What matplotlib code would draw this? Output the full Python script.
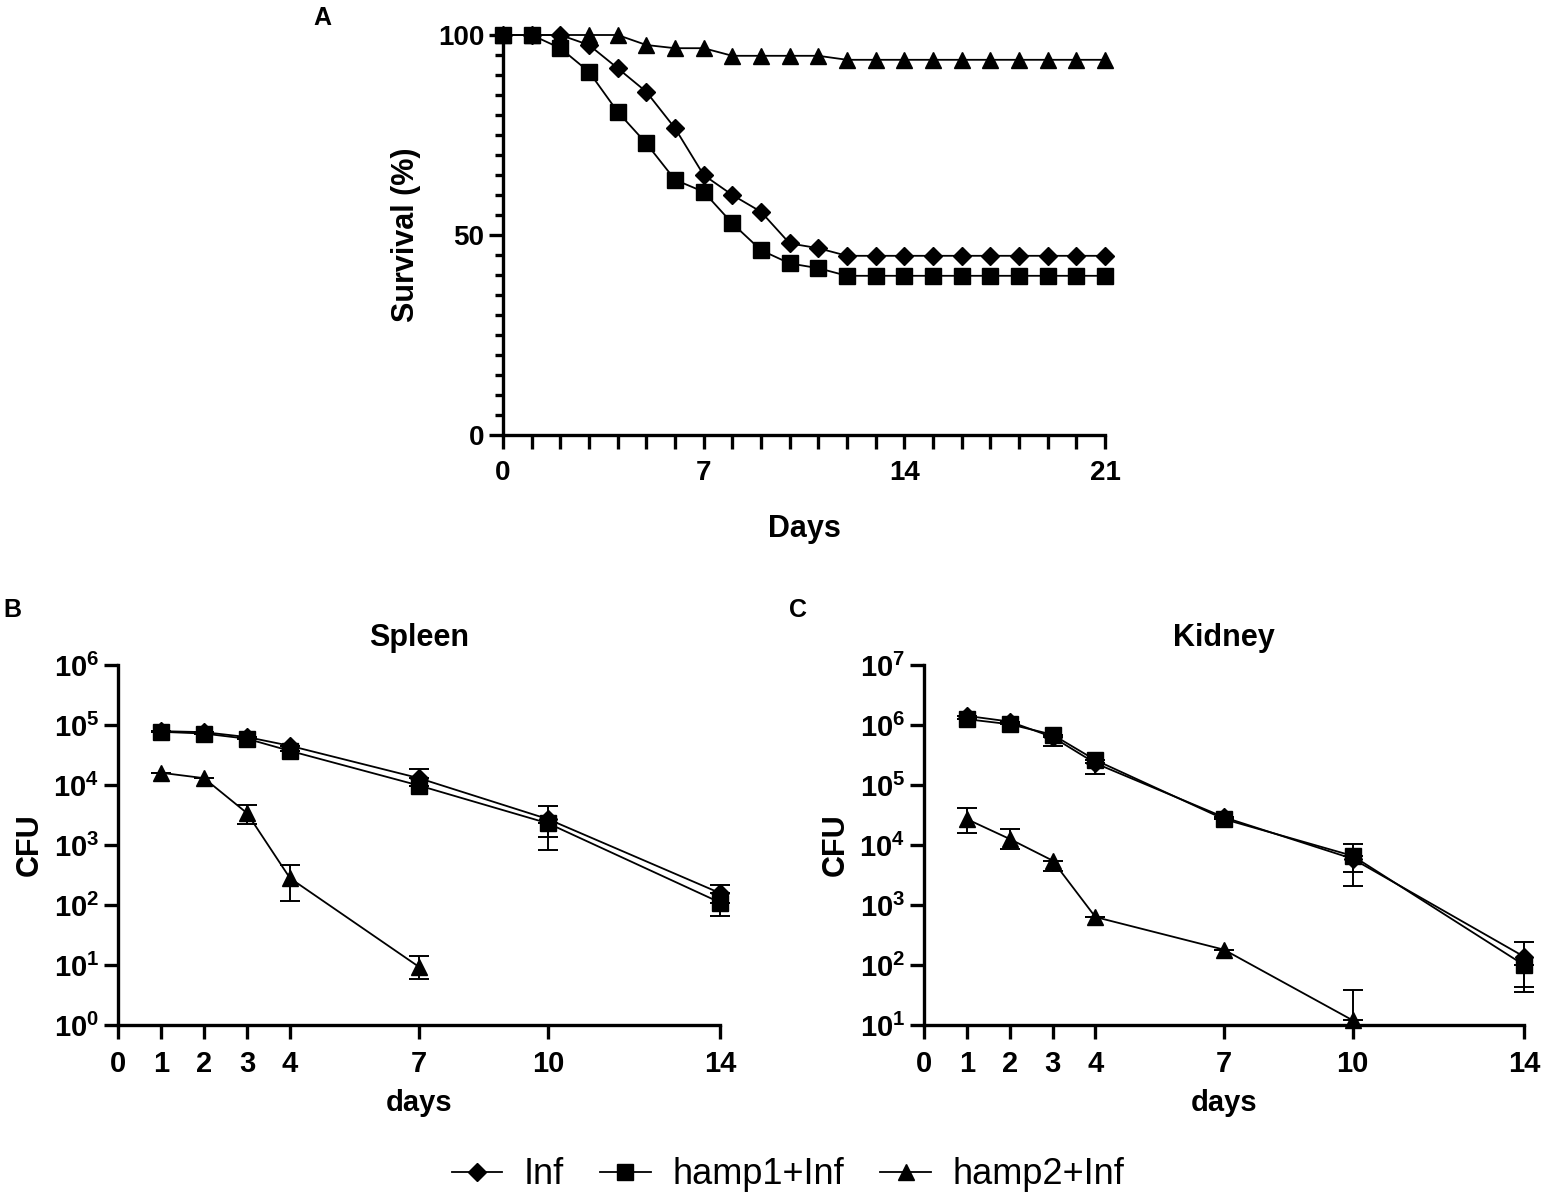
import matplotlib
matplotlib.use("Agg")
import matplotlib.pyplot as plt
from matplotlib.lines import Line2D
from matplotlib.ticker import FixedLocator, LogLocator, NullFormatter
import numpy as np

plt.rcParams["font.family"] = ["Liberation Sans", "DejaVu Sans"]

# ---- panel A: survival ----
surv_days = list(range(22))
surv_inf = [100, 100, 100, 97.5, 91.7, 85.8, 76.7, 65, 60, 55.8, 47.9, 46.7,
            44.8, 44.8, 44.8, 44.8, 44.8, 44.8, 44.8, 44.8, 44.8, 44.8]
surv_hamp1 = [100, 100, 96.7, 90.8, 80.8, 72.9, 63.8, 60.8, 52.9, 46.2, 42.9, 41.7,
              39.8, 39.8, 39.8, 39.8, 39.8, 39.8, 39.8, 39.8, 39.8, 39.8]
surv_hamp2 = [100, 100, 100, 100, 100, 97.5, 96.7, 96.7, 94.8, 94.8, 94.8, 94.8,
              93.8, 93.8, 93.8, 93.8, 93.8, 93.8, 93.8, 93.8, 93.8, 93.8]

# ---- panels B/C: CFU ----
cfu_days = [1, 2, 3, 4, 7, 10, 14]
spleen_inf = [7.9e4, 7.6e4, 6.3e4, 4.5e4, 1.3e4, 2.7e3, 158]
spleen_inf_hi = [np.nan, np.nan, np.nan, np.nan, 1.87e4, 4.4e3, 218]
spleen_inf_lo = [np.nan, np.nan, np.nan, np.nan, np.nan, 1.37e3, np.nan]
spleen_hamp1 = [7.7e4, 7.2e4, 5.9e4, 3.7e4, 9.8e3, 2.3e3, 110]
spleen_hamp1_hi = [np.nan] * 7
spleen_hamp1_lo = [np.nan, np.nan, np.nan, np.nan, np.nan, 8.2e2, 65]
spleen_days2 = [1, 2, 3, 4, 7]
spleen_hamp2 = [1.6e4, 1.3e4, 3.4e3, 280, 9.3]
spleen_hamp2_hi = [np.nan, np.nan, 4.7e3, 464, 13.9]
spleen_hamp2_lo = [np.nan, np.nan, 2.2e3, 117, 5.9]

kidney_inf = [1.42e6, 1.14e6, 6.3e5, 2.3e5, 2.9e4, 5.9e3, 138]
kidney_inf_hi = [np.nan, np.nan, np.nan, np.nan, np.nan, 1.04e4, 240]
kidney_inf_lo = [np.nan, np.nan, 4.5e5, 1.5e5, np.nan, 2.05e3, 35]
kidney_hamp1 = [1.25e6, 1.03e6, 6.9e5, 2.6e5, 2.7e4, 6.6e3, 100]
kidney_hamp1_hi = [np.nan] * 7
kidney_hamp1_lo = [np.nan, np.nan, np.nan, np.nan, np.nan, 3.6e3, 43]
kidney_days2 = [1, 2, 3, 4, 7, 10]
kidney_hamp2 = [2.7e4, 1.26e4, 5.5e3, 630, 180, 12]
kidney_hamp2_hi = [4.1e4, 1.87e4, np.nan, np.nan, np.nan, 38]
kidney_hamp2_lo = [1.6e4, 8.7e3, 3.7e3, np.nan, np.nan, np.nan]

LW = 1.3
SPINE = 2.4
styles = {
    "inf": dict(marker="D", ms=9),
    "hamp1": dict(marker="s", ms=12),
    "hamp2": dict(marker="^", ms=12),
}

fig = plt.figure(figsize=(15.41, 12), dpi=100)
W, H = 1541, 1200


def px_axes(x0, y_top, x1, y_bot):
    return fig.add_axes([x0 / W, 1 - y_bot / H, (x1 - x0) / W, (y_bot - y_top) / H])


def style_spines(ax):
    for s in ["top", "right"]:
        ax.spines[s].set_visible(False)
    for s in ["left", "bottom"]:
        ax.spines[s].set_linewidth(SPINE)
    ax.tick_params(which="major", width=SPINE, length=10, direction="out")
    ax.tick_params(which="minor", width=SPINE, length=6, direction="out")


def panel_letter(x, y, s):
    fig.text(x / W, 1 - y / H, s, fontsize=18, fontweight="bold", ha="center", va="center")


# panel A
axA = px_axes(503, 35, 1105, 435)
for key, ys in [("inf", surv_inf), ("hamp1", surv_hamp1), ("hamp2", surv_hamp2)]:
    axA.plot(surv_days, ys, color="black", lw=LW, clip_on=False,
             markerfacecolor="black", markeredgecolor="black", **styles[key])
axA.set_xlim(0, 21)
axA.set_ylim(0, 100)
style_spines(axA)
axA.set_xticks([0, 7, 14, 21])
axA.xaxis.set_minor_locator(FixedLocator(range(22)))
axA.tick_params(axis="x", which="minor", length=10)
axA.set_yticks([0, 50, 100])
axA.yaxis.set_minor_locator(FixedLocator(range(0, 101, 5)))
axA.tick_params(labelsize=20)
axA.tick_params(axis="x", pad=8)
for lab in axA.get_xticklabels() + axA.get_yticklabels():
    lab.set_fontweight("bold")
axA.set_xlabel("Days", fontsize=22, fontweight="bold", labelpad=20)
axA.set_ylabel("Survival (%)", fontsize=22, fontweight="bold", labelpad=12)
panel_letter(322, 18, "A")


def cfu_panel(ax, title, series, ylim):
    for key, d, ys, hi, lo in series:
        ys = np.array(ys, dtype=float)
        hi = np.array(hi, dtype=float)
        lo = np.array(lo, dtype=float)
        up = np.where(np.isnan(hi), 0, hi - ys)
        dn = np.where(np.isnan(lo), 0, ys - lo)
        ax.errorbar(d, ys, yerr=[dn, up], fmt="none", ecolor="black",
                    elinewidth=1.4, capsize=7, capthick=1.4, clip_on=False)
        ax.plot(d, ys, color="black", lw=LW, clip_on=False,
                markerfacecolor="black", markeredgecolor="black", **styles[key])
    ax.set_yscale("log")
    ax.set_xlim(0, 14)
    ax.set_ylim(*ylim)
    style_spines(ax)
    ax.set_xticks([0, 1, 2, 3, 4, 7, 10, 14])
    ax.yaxis.set_major_locator(LogLocator(base=10, numticks=10))
    ax.yaxis.set_minor_locator(FixedLocator([]))
    ax.yaxis.set_minor_formatter(NullFormatter())
    ax.tick_params(labelsize=21)
    ax.tick_params(axis="x", pad=8)
    for lab in ax.get_xticklabels() + ax.get_yticklabels():
        lab.set_fontweight("bold")
    ax.set_title(title, fontsize=22, fontweight="bold", pad=14)
    ax.set_xlabel("days", fontsize=21, fontweight="bold", labelpad=8)
    ax.set_ylabel("CFU", fontsize=22, fontweight="bold", labelpad=6)


axB = px_axes(118, 665, 720, 1025)
cfu_panel(axB, "Spleen", [
    ("inf", cfu_days, spleen_inf, spleen_inf_hi, spleen_inf_lo),
    ("hamp1", cfu_days, spleen_hamp1, spleen_hamp1_hi, spleen_hamp1_lo),
    ("hamp2", spleen_days2, spleen_hamp2, spleen_hamp2_hi, spleen_hamp2_lo),
], (1, 1e6))
panel_letter(12, 610, "B")

axC = px_axes(924, 665, 1524, 1025)
cfu_panel(axC, "Kidney", [
    ("inf", cfu_days, kidney_inf, kidney_inf_hi, kidney_inf_lo),
    ("hamp1", cfu_days, kidney_hamp1, kidney_hamp1_hi, kidney_hamp1_lo),
    ("hamp2", kidney_days2, kidney_hamp2, kidney_hamp2_hi, kidney_hamp2_lo),
], (10, 1e7))
panel_letter(798, 610, "C")

# legend
handles = [Line2D([], [], color="black", lw=LW, markerfacecolor="black", **styles[k])
           for k in ["inf", "hamp1", "hamp2"]]
fig.legend(handles, ["Inf", "hamp1+Inf", "hamp2+Inf"], loc="center",
           bbox_to_anchor=(788 / W, 1 - 1175 / H), ncol=3, frameon=False,
           fontsize=26, handlelength=1.4, columnspacing=1.0, handletextpad=0.6)

fig.savefig("out.png", dpi=100)
